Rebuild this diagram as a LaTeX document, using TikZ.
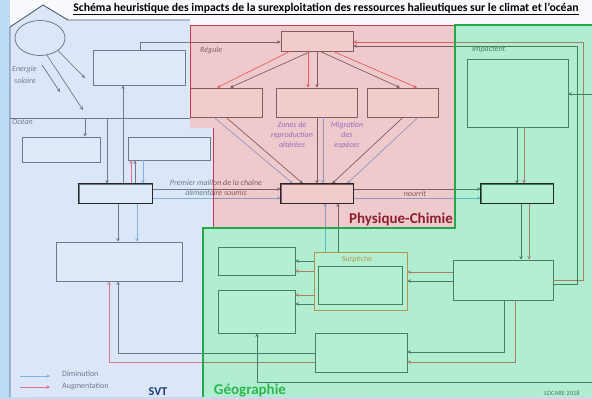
\documentclass[tikz,border=0pt]{standalone}
\usepackage{fontspec}
\setmainfont{Carlito}
\usetikzlibrary{arrows.meta,fit,shapes.geometric}
\definecolor{bgl}{HTML}{BCDDF7}
\definecolor{bgr}{HTML}{D8D5F5}
\definecolor{panel}{HTML}{F9FAFE}
\definecolor{blueov}{RGB}{190,214,244}
\definecolor{pinkov}{RGB}{231,155,155}
\definecolor{greenov}{RGB}{105,225,165}
\definecolor{dimc}{HTML}{3D8FE0}
\definecolor{augc}{HTML}{F01830}
\definecolor{dk}{HTML}{202020}
\definecolor{zc}{HTML}{4040E0}
\definecolor{surc}{HTML}{FF4A00}
\definecolor{pinkline}{HTML}{C83848}
\definecolor{greenline}{HTML}{25A84A}
\definecolor{blueline}{HTML}{4A5A72}
\definecolor{pctext}{HTML}{8E1E2E}
\definecolor{svttext}{HTML}{1F3C7A}
\definecolor{geotext}{HTML}{2DB84D}
\tikzset{
  box/.style={draw=dk, line width=0.7pt, fill=white, inner sep=0pt},
  ln/.style={draw=dk, line width=0.7pt, -{Stealth[length=3.5pt,width=3.5pt]}},
  dim/.style={ln, draw=dimc},
  aug/.style={ln, draw=augc},
  lbl/.style={font=\fontsize{8}{10}\selectfont\itshape, inner sep=0pt, text=dk},
  reg/.style={font=\fontsize{15}{15}\selectfont\bfseries, inner sep=0pt},
}
\begin{document}
\begin{tikzpicture}[x=1pt,y=-1pt]
\useasboundingbox (0,0) rectangle (592,399);
\shade[left color=bgl, right color=bgr] (0,0) rectangle (592,399);
\fill[panel] (10,0) rectangle (592,397);
% ---------- boxes ----------
\node[draw=dk, line width=0.8pt, ellipse, minimum width=50pt, minimum height=35pt, inner sep=0pt] (sun) at (40,38) {};
\node[box, fit={(93,50)(185,85)}] (B1) {};
\node[box, fit={(22,137)(100,162)}] (B2) {};
\node[box, fit={(128,137)(210,160)}] (B3) {};
\node[box, fit={(79,184)(152,203)}] (M1) {};
\node[box, fit={(56,242)(182,281)}] (L1) {};
\node[box, fit={(281,31)(353,51)}] (T) {};
\node[box, fit={(190,88)(262,117)}] (R1) {};
\node[box, fit={(276,88)(357,117)}] (R2) {};
\node[box, fit={(367,88)(438,117)}] (R3) {};
\node[box, fit={(281,184)(353,203)}] (P1) {};
\node[box, fit={(467,59)(568,127)}] (G1) {};
\node[box, fit={(481,184)(553,203)}] (G2) {};
\node[box, fit={(453,260)(553,300)}] (G3) {};
\node[box, draw=surc, fit={(314,252)(407,310)}] (S) {};
\node[box, fit={(318,266)(402,304)}] (Si) {};
\node[box, fit={(218,247)(295,275)}] (G4a) {};
\node[box, fit={(218,290)(295,333)}] (G4b) {};
\node[box, fit={(315,333)(407,372)}] (G5) {};
% ---------- labels ----------
\node[lbl, anchor=west] (lEn) at (12,69) {Energie};
\node[lbl, anchor=west] (lSo) at (14,81) {solaire};
\node[lbl, anchor=west] (lOc) at (12,122) {Océan};
\node[lbl, anchor=west] (lRe) at (200,50) {Régule};
\node[lbl, anchor=west] (lIm) at (472,50) {Impactent};
\node[lbl, align=center] (lPm) at (216,188) {Premier maillon de la chaîne\\alimentaire soumis};
\node[lbl] (lNo) at (415,194) {nourrit};
\node[lbl, text=zc, align=center] (lZo) at (292,135) {Zones de\\reproduction\\altérées};
\node[lbl, text=zc, align=center] (lMi) at (347,135) {Migration\\des\\espèces};
\node[lbl, text=surc, font=\fontsize{8}{9}\selectfont] (lSu) at (357,259) {Surpêche};
\node[lbl, font=\fontsize{8}{9}\selectfont, anchor=west] (lDi) at (62,374) {Diminution};
\node[lbl, font=\fontsize{8}{9}\selectfont, anchor=west] (lAu) at (62,386) {Augmentation};
\node[lbl, font=\fontsize{6.5}{7}\selectfont] (lCp) at (562,393) {LDCARE 2018};
% ---------- coordinates ----------
\coordinate (e1) at (85,78);
\coordinate (e3) at (83,110);
\coordinate (s2) at (42,65);
\coordinate (e2) at (60,92);
\coordinate (oc1) at (85,118);
\coordinate (oc2) at (107,118);
\coordinate (oceanL) at (10,118);
\coordinate (oceanR) at (190,118);
\coordinate (legA) at (20,376);
\coordinate (legB) at (50,376);
\coordinate (legC) at (20,387);
\coordinate (legD) at (50,387);
\coordinate (rightin) at (592,94);
\coordinate (rightbot) at (592,382);
% ---------- connectors ----------
\draw[dk, line width=0.8pt] (oceanL) -- (oceanR);
\draw[ln] (sun.-35) -- (e1);
\draw[ln] (sun.-68) -- (e3);
\draw[ln] (s2) -- (e2);
\draw[ln] (oc1) -- (B2.north -| oc1);
\draw[ln] (oc2) -- (M1.north -| oc2);
\draw[ln] (M1.north -| 123,0) -- (B1.south -| 123,0);
\draw[aug] (M1.north -| 131,0) -- (B3.south -| 131,0);
\draw[ln] (M1.north -| 135,0) -- (B3.south -| 135,0);
\draw[dim] (B3.south -| 143,0) -- (M1.north -| 143,0);
\draw[ln] (M1.south -| 118,0) -- (L1.north -| 118,0);
\draw[dim] (M1.south -| 137,0) -- (L1.north -| 137,0);
\draw[ln] (M1.east |- 0,189) -- (P1.west |- 0,189);
\draw[dim] (M1.east |- 0,198) -- (P1.west |- 0,198);
\draw[ln] (B1.north -| 140,0) |- (T.west |- 0,42);
% T to R
\draw[aug] (T.south -| 290,0) -- (R1.north -| 217,0);
\draw[ln] (T.south -| 311,0) -- (R1.north -| 230,0);
\draw[aug] (T.south -| 308,0) -- (R2.north -| 308,0);
\draw[ln] (T.south -| 317,0) -- (R2.north -| 317,0);
\draw[ln] (T.south -| 320,0) -- (R3.north -| 400,0);
\draw[aug] (T.south -| 333,0) -- (R3.north -| 417,0);
% R to P1
\draw[dim] (R1.south -| 214,0) -- (P1.north -| 293,0);
\draw[ln] (R1.south -| 226,0) -- (P1.north -| 303,0);
\draw[ln] (R2.south -| 317,0) -- (P1.north -| 317,0);
\draw[dim] (R2.south -| 323,0) -- (P1.north -| 323,0);
\draw[ln] (R3.south -| 403,0) -- (P1.north -| 332,0);
\draw[dim] (R3.south -| 418,0) -- (P1.north -| 347,0);
% P1 to G2
\draw[ln] (P1.east |- 0,189) -- (G2.west |- 0,189);
\draw[dim] (P1.east |- 0,198) -- (G2.west |- 0,198);
% G1 -> G2 -> G3
\draw[ln] (G1.south -| 517,0) -- (G2.north -| 517,0);
\draw[aug] (G1.south -| 524,0) -- (G2.north -| 524,0);
\draw[ln] (G2.south -| 521,0) -- (G3.north -| 521,0);
\draw[aug] (G2.south -| 529,0) -- (G3.north -| 529,0);
% loops G3 -> T
\draw[aug] (G3.east |- 0,280) -| (583,42) -- (T.east |- 0,42);
\draw[ln] (G3.east |- 0,284) -| (577,46) -- (T.east |- 0,46);
\draw[ln] (rightin) -- (G1.east |- rightin);
% G3 -> S
\draw[aug] (G3.west |- 0,272) -- (S.east |- 0,272);
\draw[ln] (G3.west |- 0,281) -- (S.east |- 0,281);
% S -> G4
\draw[ln] (S.west |- 0,261) -- (G4a.east |- 0,261);
\draw[aug] (S.west |- 0,271) -- (G4a.east |- 0,271);
\draw[aug] (S.west |- 0,295) -- (G4b.east |- 0,295);
\draw[ln] (S.west |- 0,304) -- (G4b.east |- 0,304);
% S -> P1
\draw[dim] (S.north -| 325,0) -- (P1.south -| 325,0);
\draw[ln] (S.north -| 338,0) -- (P1.south -| 338,0);
% G3 -> G5
\draw[ln] (G3.south -| 504,0) |- (G5.east |- 0,352);
\draw[aug] (G3.south -| 515,0) |- (G5.east |- 0,362);
% G5 -> L1
\draw[ln] (G5.west |- 0,353) -| (L1.south -| 118,0);
\draw[aug] (G5.west |- 0,362) -| (L1.south -| 109,0);
% to G4b bottom
\draw[ln] (rightbot) -| (G4b.south -| 257,0);
% legend
\draw[dim] (legA) -- (legB);
\draw[aug] (legC) -- (legD);
% ---------- region overlays ----------
\fill[blueov, opacity=0.5] (10,397) -- (10,27) -- (43,5) -- (68,20) -- (190,20) -- (190,128) -- (213,128) -- (213,228) -- (203,228) -- (203,397) -- cycle;
\fill[pinkov, opacity=0.5] (190,25) -- (455,25) -- (455,228) -- (213,228) -- (213,128) -- (190,128) -- cycle;
\fill[greenov, opacity=0.5] (455,25) -- (592,25) -- (592,397) -- (203,397) -- (203,228) -- (455,228) -- cycle;
% ---------- region borders ----------
\draw[blueline, line width=0.9pt] (10,397) -- (10,27) -- (43,5) -- (68,20) -- (190,20);
\draw[pinkline, line width=0.8pt] (213,228) -- (213,128) (190,118) -- (190,25) -- (455,25);
\draw[greenline, line width=1.5pt] (203,397) -- (203,228) -- (455,228) -- (455,25) -- (592,25);
% thick boxes
\draw[line width=1.3pt, draw=black!85] (M1.north west) rectangle (M1.south east);
\draw[line width=1.3pt, draw=black!85] (P1.north west) rectangle (P1.south east);
\draw[line width=1.3pt, draw=black!85] (G2.north west) rectangle (G2.south east);
% ---------- titles ----------
\node[font=\fontsize{11.7}{12}\selectfont\bfseries, inner sep=0pt] (title) at (326,9) {\underline{Schéma heuristique des impacts de la surexploitation des ressources halieutiques sur le climat et l'océan}};
\node[reg, text=pctext] (tPC) at (401,219) {Physique-Chimie};
\node[reg, text=svttext, font=\fontsize{12}{12}\selectfont\bfseries] (tSVT) at (158,392) {SVT};
\node[reg, text=geotext] (tGeo) at (250,391) {Géographie};
\end{tikzpicture}
\end{document}
